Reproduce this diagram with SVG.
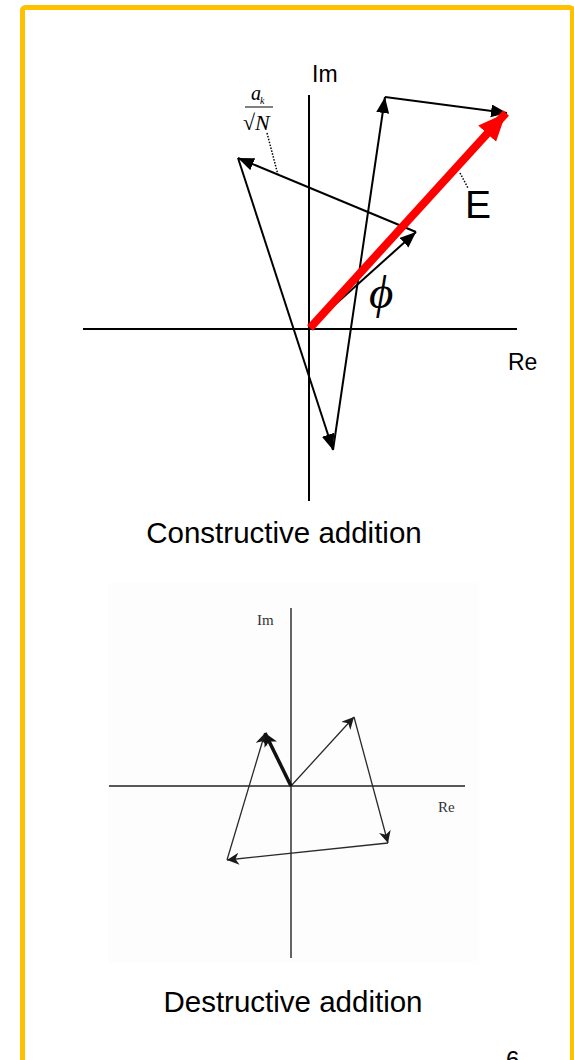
<svg xmlns="http://www.w3.org/2000/svg" width="574" height="1060" viewBox="0 0 574 1060">
<style>
.ax{stroke:#000;stroke-width:2;fill:none}
.vec{stroke:#000;stroke-width:2;fill:none;marker-end:url(#ah)}
.ax2{stroke:#222;stroke-width:1.4;fill:none}
.vec2{stroke:#2a2a2a;stroke-width:1.3;fill:none;marker-end:url(#ah2)}
.sans{font-family:"Liberation Sans",Arial,sans-serif;fill:#000}
.serif{font-family:"Liberation Serif","Times New Roman",serif}
</style>
<defs>
<marker id="ah" markerUnits="userSpaceOnUse" markerWidth="18" markerHeight="14" refX="16" refY="6.5" orient="auto">
<path d="M0,0 L16,6.5 L0,13 z" fill="#000"/>
</marker>
<marker id="ahr" markerUnits="userSpaceOnUse" markerWidth="30" markerHeight="26" refX="28" refY="12" orient="auto">
<path d="M0,0 L28,12 L0,24 z" fill="#f00"/>
</marker>
<marker id="ah2" markerUnits="userSpaceOnUse" markerWidth="16" markerHeight="14" refX="12" refY="6" orient="auto">
<path d="M0,0 L12,6 L0,12 L3.5,6 z" fill="#1a1a1a"/>
</marker>
<marker id="ah2b" markerUnits="userSpaceOnUse" markerWidth="18" markerHeight="16" refX="13" refY="7" orient="auto">
<path d="M0,0 L13,7 L0,14 L3.5,7 z" fill="#111"/>
</marker>
</defs>
<rect x="0" y="0" width="574" height="1060" fill="#fff"/>
<rect id="frame" x="22.5" y="7.5" width="550" height="1100" rx="3" fill="none" stroke="#FFC000" stroke-width="5"/>

<g id="constructive">
<g id="axes1">
<line class="ax" x1="309" y1="95" x2="309" y2="501"/>
<line class="ax" x1="83" y1="329" x2="517" y2="329"/>
<text class="sans" x="312" y="82" font-size="23">Im</text>
<text class="sans" x="508" y="370" font-size="23">Re</text>
</g>
<g id="connectors1">
<line class="vec" x1="309" y1="328" x2="416" y2="232"/>
<line class="vec" x1="416" y1="232" x2="238" y2="158"/>
<line class="vec" x1="238" y1="158" x2="333" y2="450"/>
<line class="vec" x1="333" y1="450" x2="385" y2="97"/>
<line class="vec" x1="385" y1="97" x2="507" y2="113"/>
<line x1="310" y1="328" x2="506" y2="113" stroke="#f00" stroke-width="8" marker-end="url(#ahr)"/>
<line x1="267" y1="133" x2="278" y2="175" stroke="#000" stroke-width="1.5" stroke-dasharray="1.5,1.5"/>
<line x1="460" y1="173" x2="468" y2="188" stroke="#000" stroke-width="1.5" stroke-dasharray="1.5,1.5"/>
</g>
<g id="label-ak">
<text class="serif" x="251" y="100" font-size="20" font-style="italic">a</text>
<text class="serif" x="260" y="104" font-size="10" font-style="italic">k</text>
<line x1="245" y1="107" x2="273" y2="107" stroke="#000" stroke-width="1"/>
<text class="serif" x="243" y="130" font-size="22">√<tspan font-style="italic">N</tspan></text>
</g>
<text id="label-E" class="sans" x="465" y="218" font-size="39">E</text>
<text id="label-phi" class="serif" x="369" y="308" font-size="47" font-style="italic">ϕ</text>
<text id="cap1" class="sans" x="284" y="543" font-size="29.5" text-anchor="middle">Constructive addition</text>
</g>

<g id="destructive">
<rect x="108" y="583" width="371" height="380" fill="#fdfdfd"/>
<g id="axes2">
<line class="ax2" x1="291" y1="608" x2="291" y2="958"/>
<line class="ax2" x1="109" y1="786" x2="465" y2="786"/>
<text class="serif" x="257" y="625" font-size="15" fill="#333">Im</text>
<text class="serif" x="438" y="812" font-size="15" fill="#333">Re</text>
</g>
<g id="connectors2">
<line class="vec2" x1="291" y1="786" x2="354" y2="717"/>
<line class="vec2" x1="354" y1="717" x2="388" y2="843"/>
<line class="vec2" x1="388" y1="843" x2="227" y2="860"/>
<line class="vec2" x1="227" y1="860" x2="265" y2="733"/>
<line x1="291" y1="786" x2="265" y2="733" stroke="#111" stroke-width="3.5" marker-end="url(#ah2b)"/>
</g>
<text id="cap2" class="sans" x="293" y="1012" font-size="29.5" text-anchor="middle">Destructive addition</text>
</g>
<text id="pagenum" class="sans" x="506" y="1068" font-size="24" fill="#888">6</text>
</svg>
